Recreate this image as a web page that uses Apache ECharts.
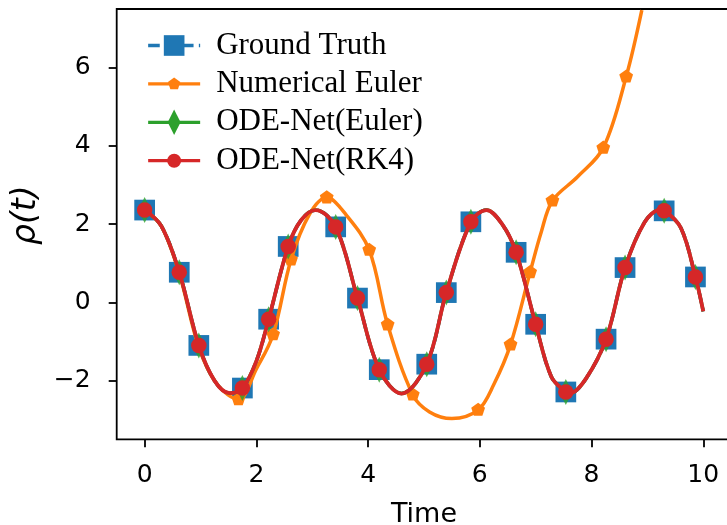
<!DOCTYPE html>
<html>
<head>
<meta charset="utf-8">
<script src="https://cdn.jsdelivr.net/npm/echarts@6/dist/echarts.min.js"></script>
<style>
  html, body { margin: 0; padding: 0; background: #fff; }
  #chart { width: 727px; height: 525px; }
</style>
</head>
<body>
<div id="chart"></div>
<script>
// Sampled observation times and the ground-truth pendulum angle at them
const sampleTime = [0, 0.62, 0.97, 1.75, 2.22, 2.57, 3.42, 3.81, 4.2, 5.05, 5.4, 5.84, 6.65, 7.0, 7.54, 8.26, 8.6, 9.3, 9.86];
const groundTruth = [2.36, 0.77, -1.10, -2.19, -0.43, 1.43, 1.93, 0.11, -1.72, -1.58, 0.25, 2.06, 1.28, -0.56, -2.29, -0.94, 0.89, 2.34, 0.65];

// Continuous trajectory predicted by the RK4 ODE-Net (time, value)
const rk4Time = [0, 0.3, 0.62, 0.97, 1.25, 1.52, 1.75, 2.0, 2.22, 2.57, 2.8, 3.06, 3.42, 3.81, 4.2, 4.6, 5.05, 5.4, 5.84, 6.12, 6.4, 6.65, 7.0, 7.28, 7.54, 7.62, 7.9, 8.26, 8.6, 8.95, 9.22, 9.3, 9.6, 9.86, 10.0];
const rk4Value = [2.36, 1.95, 0.77, -1.10, -2.0, -2.32, -2.19, -1.5, -0.43, 1.43, 2.1, 2.36, 1.93, 0.11, -1.72, -2.33, -1.58, 0.25, 2.06, 2.36, 2.0, 1.28, -0.56, -1.9, -2.29, -2.32, -1.95, -0.94, 0.89, 2.05, 2.36, 2.34, 1.9, 0.65, -0.23];

// Plain forward-Euler integration of the same system
const eulerTime = [0, 0.3, 0.62, 0.97, 1.3, 1.68, 2.0, 2.3, 2.62, 2.95, 3.26, 3.6, 4.02, 4.35, 4.8, 5.1, 5.5, 5.97, 6.25, 6.55, 6.9, 7.1, 7.3, 7.75, 8.21, 8.62, 8.9];
const eulerValue = [2.36, 1.95, 0.74, -1.15, -2.1, -2.48, -1.7, -0.82, 1.09, 2.25, 2.68, 2.25, 1.34, -0.57, -2.36, -2.8, -2.97, -2.75, -2.1, -1.08, 0.77, 1.8, 2.6, 3.21, 3.95, 5.77, 7.47];
const eulerMarkTime = [0, 1.68, 2.3, 2.62, 3.26, 4.02, 4.35, 4.8, 5.97, 6.55, 6.9, 7.3, 8.21, 8.62];

const xTicks = [0, 2, 4, 6, 8, 10];
const yTicks = [-2, 0, 2, 4, 6];

const C = { blue: '#1f77b4', orange: '#ff7f0e', green: '#2ca02c', red: '#d62728' };

// Marker shapes inside a padded square frame, so the legend (which draws every
// marker in the same box) keeps their relative sizes.
function framed(pad, shape) {
  return 'path://M' + (-pad) + ',' + (-pad) + ' M' + pad + ',' + pad + ' ' + shape;
}
const SQUARE_PAD = 1.24, CIRCLE_PAD = 1.83, PENTA_PAD = 1.97, DIAMOND_PAD = 1.0;
const SQUARE = framed(SQUARE_PAD, 'M-1,-1 L1,-1 L1,1 L-1,1 Z');
const CIRCLE = framed(CIRCLE_PAD, 'M-1,0 A1,1 0 1,1 1,0 A1,1 0 1,1 -1,0 Z');
const PENTAGON = framed(PENTA_PAD, 'M0,-1 L0.951,-0.309 L0.588,0.809 L-0.588,0.809 L-0.951,-0.309 Z');
const DIAMOND = framed(DIAMOND_PAD, 'M0,-1 L0.5,0 L0,1 L-0.5,0 Z');

const near = (a, list) => list.some(b => Math.abs(a - b) < 1e-9);

// Curve points; only the listed times carry a marker
function curve(times, values, markTimes) {
  return times.map((t, i) => near(t, markTimes)
    ? { value: [t, values[i]] }
    : { value: [t, values[i]], symbol: 'none' });
}

const markersOnly = (times, values) => times.map((t, i) => ({ value: [t, values[i]] }));

const fmt = v => (v < 0 ? '\u2212' + Math.abs(v) : String(v));

const chart = echarts.init(document.getElementById('chart'), null, { renderer: 'canvas' });

chart.setOption({
  animation: false,
  backgroundColor: '#fff',
  grid: {
    left: 116.7, top: 9, width: 614.5, height: 430.3,
    containLabel: false, outerBoundsMode: 'none',
    show: true, borderColor: '#000', borderWidth: 1.8, backgroundColor: 'transparent'
  },
  legend: {
    orient: 'vertical',
    left: 141.5, top: 25,
    itemWidth: 52, itemHeight: 32, itemGap: 7.4,
    lineStyle: { width: 3.3 },
    textStyle: {
      fontFamily: 'Liberation Serif', fontSize: 31, color: '#000',
      lineHeight: 31, padding: [0, 0, 0, 11]
    },
    data: ['Ground Truth', 'Numerical Euler', 'ODE-Net(Euler)', 'ODE-Net(RK4)']
  },
  xAxis: {
    type: 'value', min: -0.5, max: 10.5,
    name: 'Time', nameLocation: 'middle', nameGap: 62,
    nameTextStyle: { fontFamily: 'DejaVu Sans', fontSize: 27, color: '#000' },
    axisLine: { show: false, onZero: false },
    splitLine: { show: false },
    axisTick: { show: true, inside: false, length: 8, customValues: xTicks, lineStyle: { color: '#000', width: 1.8 } },
    axisLabel: { customValues: xTicks, margin: 24, fontFamily: 'DejaVu Sans', fontSize: 25, color: '#000', lineHeight: 25, formatter: fmt }
  },
  yAxis: {
    type: 'value', min: -3.5, max: 7.5,
    name: '\u03C1(t)', nameLocation: 'middle', nameGap: 70, nameRotate: 90,
    nameTextStyle: { fontFamily: 'DejaVu Sans', fontStyle: 'italic', fontSize: 33, color: '#000', padding: [0, 0, 0, 18] },
    axisLine: { show: false, onZero: false },
    splitLine: { show: false },
    axisTick: { show: true, inside: false, length: 8, customValues: yTicks, lineStyle: { color: '#000', width: 1.8 } },
    axisLabel: { customValues: yTicks, margin: 26, fontFamily: 'DejaVu Sans', fontSize: 25, color: '#000', formatter: fmt }
  },
  series: [
    {
      name: 'Ground Truth', type: 'line', smooth: 0.35,
      data: curve(rk4Time, rk4Value, sampleTime),
      symbol: SQUARE, symbolSize: 20.7 * SQUARE_PAD, showAllSymbol: true,
      itemStyle: { color: C.blue },
      lineStyle: { color: C.blue, width: 3.5, type: [11.6, 5.3] },
      z: 2
    },
    {
      name: 'Numerical Euler', type: 'line', smooth: 0.35,
      data: curve(eulerTime, eulerValue, eulerMarkTime),
      symbol: PENTAGON, symbolSize: 14.5 * PENTA_PAD, showAllSymbol: true,
      itemStyle: { color: C.orange },
      lineStyle: { color: C.orange, width: 3.5 },
      z: 3
    },
    {
      name: 'ODE-Net(Euler)', type: 'line', smooth: 0.35,
      data: curve(rk4Time, rk4Value, []),
      symbol: DIAMOND, symbolSize: 26, showAllSymbol: true,
      itemStyle: { color: C.green },
      lineStyle: { color: C.green, width: 3.5 },
      z: 4
    },
    {
      name: 'ODE-Net(Euler)', type: 'scatter',
      data: markersOnly(sampleTime, groundTruth),
      symbol: DIAMOND, symbolSize: 26 * DIAMOND_PAD,
      itemStyle: { color: C.green },
      z: 4
    },
    {
      name: 'ODE-Net(RK4)', type: 'line', smooth: 0.35,
      data: curve(rk4Time, rk4Value, sampleTime),
      symbol: CIRCLE, symbolSize: 15.5 * CIRCLE_PAD, showAllSymbol: true,
      itemStyle: { color: C.red },
      lineStyle: { color: C.red, width: 3.8 },
      z: 5
    }
  ]
});
</script>
</body>
</html>
